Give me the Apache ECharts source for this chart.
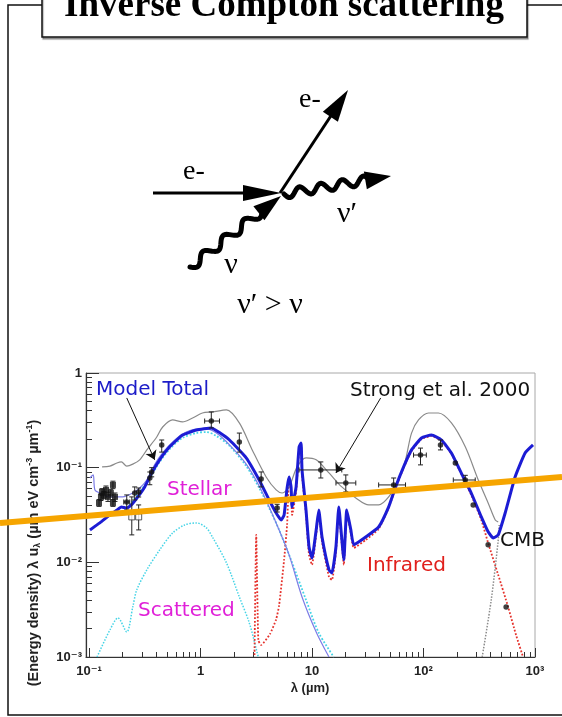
<!DOCTYPE html>
<html>
<head>
<meta charset="utf-8">
<script src="https://cdn.jsdelivr.net/npm/echarts@6/dist/echarts.min.js"></script>
<style>
  html, body { margin: 0; padding: 0; background: #fff; }
  #chart { width: 562px; height: 717px; }
</style>
</head>
<body>
<div id="chart"></div>
<script>
// Interstellar radiation field: wavelength λ in µm, energy density λu_λ in eV cm^-3

// Model total (thick blue)
const modelTotal = [
  [0.102,0.022],[0.125,0.0261],[0.154,0.0317],[0.178,0.0357],[0.195,0.0385],[0.218,0.0375],
  [0.24,0.0404],[0.274,0.0491],[0.316,0.0626],[0.365,0.088],[0.43,0.121],[0.529,0.166],
  [0.69,0.221],[0.921,0.25],[1.25,0.263],[1.5,0.232],[1.82,0.196],[2.57,0.127],[3.36,0.0741],
  [4.13,0.0456],[4.77,0.0332],[5.29,0.028],[5.62,0.0317],[5.98,0.061],[6.23,0.0798],
  [6.49,0.0626],[6.63,0.0385],[7.2,0.0626],[7.66,0.166],[7.98,0.182],[8.14,0.0946],
  [8.84,0.0357],[9.4,0.0146],[10,0.0111],[10.9,0.022],[11.5,0.0357],[12.3,0.0185],
  [14.2,0.00831],[15.1,0.00773],[16.4,0.0146],[17.4,0.0385],[18.2,0.022],[19.3,0.0106],
  [20.5,0.0357],[22.3,0.022],[23.7,0.0153],[30.3,0.0185],[39.6,0.0236],[48.7,0.0385],
  [56.2,0.0626],[66.3,0.102],[78.1,0.154],[96,0.206],[118,0.221],[145,0.196],[178,0.143],
  [218,0.088],[268,0.054],[330,0.0302],[380,0.021],[422,0.0181],[468,0.0195],[540,0.0332],
  [663,0.0798],[815,0.143],[960,0.174]
];

// Strong et al. 2000 (thin grey)
const strong2000 = [
  [0.131,0.102],[0.154,0.104],[0.178,0.112],[0.195,0.115],[0.218,0.104],[0.247,0.109],
  [0.285,0.121],[0.33,0.154],[0.405,0.211],[0.458,0.269],[0.562,0.319],[0.69,0.304],
  [0.849,0.335],[1.04,0.378],[1.28,0.388],[1.71,0.407],[2.23,0.297],[2.91,0.154],
  [3.88,0.0798],[4.77,0.0582],[5.4,0.054],[6.23,0.0626],[7.35,0.102],[8.84,0.127],
  [10.9,0.121],[14.2,0.088],[18.5,0.0626],[24.7,0.0479],[32.3,0.0404],[39.6,0.0404],
  [48.7,0.0491],[59.8,0.0741],[69,0.121],[78.1,0.232],[90.2,0.319],[111,0.378],[136,0.378],
  [178,0.297],[237,0.166],[310,0.0741],[380,0.0424],[440,0.028],[468,0.0267]
];

// Direct stellar emission (thin violet)
const stellarDirect = [
  [0.102,0.0778],[0.109,0.0838],[0.113,0.0582],[0.125,0.054],[0.154,0.0491],[0.201,0.0491],
  [0.247,0.054],[0.285,0.061],[0.33,0.0741],[0.365,0.0946],[0.43,0.13],[0.529,0.174],
  [0.69,0.227],[0.921,0.256],[1.13,0.257],[1.39,0.232],[1.82,0.174],[2.57,0.109],
  [3.36,0.0641],[4.13,0.0385],[5.07,0.022],[6.23,0.012],[8.14,0.00431],[10.9,0.00184],[14.2,0.001]
];

// Stellar component (dotted cyan)
const stellar = [
  [0.2,0.033],[0.285,0.0554],[0.365,0.0838],[0.43,0.115],[0.529,0.157],[0.69,0.206],
  [0.921,0.232],[1.13,0.238],[1.39,0.216],[1.82,0.17],[2.57,0.104],[3.36,0.061],
  [4.13,0.0375],[5.07,0.022],[6.49,0.0106],[8.84,0.00401],[11.5,0.0018],[15.7,0.001]
];

// Scattered starlight (dotted cyan)
const scattered = [
  [0.118,0.001],[0.154,0.00193],[0.182,0.00259],[0.218,0.00184],[0.247,0.00338],
  [0.268,0.00511],[0.33,0.00831],[0.43,0.0135],[0.562,0.0204],[0.72,0.0248],[0.921,0.0261],
  [1.13,0.0231],[1.28,0.0185],[1.71,0.00986],[2.23,0.00431],[2.74,0.00229],[3.23,0.0011],[3.3,0.001]
];

// Dust infrared emission (dotted red)
const infrared = [
  [3.05,0.00105],[3.16,0.0195],[3.3,0.0015],[3.5,0.00134],[4.2,0.00175],[4.77,0.0025],
  [5.07,0.0035],[5.62,0.0106],[5.98,0.025],[6.23,0.0741],[6.49,0.0554],[6.63,0.0317],
  [7.2,0.0554],[7.66,0.154],[7.98,0.17],[8.14,0.0838],[8.84,0.0317],[9.4,0.012],[10,0.0094],
  [10.9,0.0195],[11.5,0.0332],[12.3,0.0164],[14.2,0.00701],[15.1,0.00652],[16.4,0.0129],
  [17.4,0.0357],[18.2,0.0195],[19.3,0.0094],[20.5,0.0332],[22.3,0.0204],[23.7,0.0142],
  [30.3,0.0172],[39.6,0.0225],[48.7,0.0375],[56.2,0.061],[66.3,0.0993],[78.1,0.15],
  [96,0.201],[118,0.216],[145,0.191],[178,0.14],[218,0.0858],[268,0.0515],[330,0.028],
  [380,0.016],[468,0.00736],[574,0.00338],[676,0.00171],[781,0.001]
];

// Cosmic microwave background (dotted grey)
const cmb = [[336,0.001],[405,0.00401],[468,0.0172],[477,0.0248]];

// Measurements: filled squares
const sqLam = [0.123,0.128,0.131,0.136,0.142,0.148,0.157,0.164,0.171,0.164];
const sqU   = [0.0424,0.0491,0.0554,0.0515,0.0582,0.0491,0.054,0.0657,0.0491,0.0424];
const sqULo = [0.039,0.045,0.051,0.047,0.053,0.044,0.049,0.06,0.044,0.039];
const sqUHi = [0.046,0.053,0.06,0.056,0.064,0.055,0.059,0.072,0.054,0.046];

// Measurements: open squares
const opLam = [0.242,0.279];
const opU   = [0.0302,0.0302];
const opULo = [0.0195,0.022];
const opUHi = [0.0491,0.0404];

// Measurements: filled dots (λ range and u range give the error bars)
const dtLam   = [0.218,0.257,0.279,0.351,0.365,0.449,1.25,2.23,3.5,4.87,12.0,20.1,54,94,142,193,237,279,380,551];
const dtU     = [0.0434,0.054,0.0554,0.0778,0.0901,0.174,0.311,0.187,0.076,0.0375,0.0946,0.0689,0.0657,0.136,0.174,0.112,0.0741,0.0404,0.0153,0.00338];
const dtLamLo = [0.205,0.257,0.279,0.351,0.365,0.449,1.09,2.23,3.5,4.87,7.66,16.4,39.6,81.4,142,193,185,279,380,551];
const dtLamHi = [0.232,0.257,0.279,0.351,0.365,0.449,1.48,2.23,3.5,4.87,18.5,24.7,69,106,142,193,291,279,380,551];
const dtULo   = [0.0357,0.0456,0.049,0.066,0.08,0.146,0.263,0.146,0.0626,0.034,0.0778,0.0554,0.0554,0.107,0.154,0.112,0.066,0.0404,0.0153,0.00338];
const dtUHi   = [0.0515,0.0626,0.061,0.09,0.1,0.196,0.388,0.232,0.0901,0.041,0.115,0.0838,0.0778,0.161,0.196,0.112,0.083,0.0404,0.0153,0.00338];

// Annotation arrows (start, tip)
const modelArrow  = [[0.218,0.545],[0.388,0.121]];
const strongArrow = [[41.3,0.545],[16.4,0.088]];

// Overlaid trend stroke, end to end across the page
const trendLine = [[0.0159,0.0261],[1747,0.0798]];

// Axis ticks
const xMajor = [0.1, 1, 10, 100, 1000];
const xLabels = ['10\u207B\u00B9', '1', '10', '10\u00B2', '10\u00B3'];
const xMinor = [0.2,0.3,0.4,0.5,0.6,0.7,0.8,0.9, 2,3,4,5,6,7,8,9, 20,30,40,50,60,70,80,90, 200,300,400,500,600,700,800,900];
const yMajor = [0.001, 0.01, 0.1, 1];
const yLabels = ['10\u207B\u00B3', '10\u207B\u00B2', '10\u207B\u00B9', '1'];
const yMinor = [0.002,0.003,0.004,0.005,0.006,0.007,0.008,0.009, 0.02,0.03,0.04,0.05,0.06,0.07,0.08,0.09, 0.2,0.3,0.4,0.5,0.6,0.7,0.8,0.9];
const xRange = [0.094, 1000];
const yRange = [0.001, 1];

const L = Math.log10;
const toXY = arr => arr.map(p => [L(p[0]), L(p[1])]);
const labelOf = (majors, labels) => v => {
  const i = majors.findIndex(m => Math.abs(L(m) - v) < 1e-6);
  return i >= 0 ? labels[i] : '';
};

const errData = [];
sqLam.forEach((x, i) => errData.push([L(x), L(sqU[i]), L(x), L(x), L(sqULo[i]), L(sqUHi[i])]));
opLam.forEach((x, i) => errData.push([L(x), L(opU[i]), L(x), L(x), L(opULo[i]), L(opUHi[i])]));
dtLam.forEach((x, i) => errData.push([L(x), L(dtU[i]), L(dtLamLo[i]), L(dtLamHi[i]), L(dtULo[i]), L(dtUHi[i])]));

const sansBold = 'Liberation Sans, DejaVu Sans, sans-serif';
const tickFont = { fontFamily: sansBold, fontWeight: 'bold', fontSize: 13, color: '#222' };
const annoFont = '"Comic Sans MS", "DejaVu Sans", sans-serif';

function axisPair(isX) {
  const majors = isX ? xMajor : yMajor;
  const minors = isX ? xMinor : yMinor;
  const range = isX ? xRange : yRange;
  const base = { type: 'value', gridIndex: 0, min: L(range[0]), max: L(range[1]), splitLine: { show: false } };
  return [
    Object.assign({}, base, {
      position: isX ? 'bottom' : 'left',
      axisLine: { show: false, onZero: false },
      axisTick: { show: true, inside: true, length: isX ? 5 : 6, customValues: minors.map(L), lineStyle: { color: '#333', width: 1 } },
      axisLabel: { show: false }
    }),
    Object.assign({}, base, {
      position: isX ? 'bottom' : 'left',
      axisLine: { show: true, onZero: false, lineStyle: { color: '#333', width: 1.2 } },
      axisTick: { show: true, inside: true, length: isX ? 9 : 13, customValues: majors.map(L), lineStyle: { color: '#333', width: 1 } },
      axisLabel: Object.assign({ customValues: majors.map(L), formatter: labelOf(majors, isX ? xLabels : yLabels), margin: isX ? 8 : 4 }, tickFont)
    })
  ];
}

// Full-width overlay grid sharing the same log scale as the plot area
const plotLeft = 86, plotRight = 27, pageW = 562;
const pxPerDecade = (pageW - plotLeft - plotRight) / (L(xRange[1]) - L(xRange[0]));
const overlayX = {
  type: 'value', gridIndex: 1, show: false,
  min: L(xRange[0]) - plotLeft / pxPerDecade,
  max: L(xRange[1]) + plotRight / pxPerDecade
};
const overlayY = { type: 'value', gridIndex: 1, show: false, min: L(yRange[0]), max: L(yRange[1]) };

// Wavy photon line and arrow heads for the scattering sketch
function wavy(x0, y0, x1, y1, waves, amp) {
  const pts = [];
  const dx = x1 - x0, dy = y1 - y0, len = Math.hypot(dx, dy);
  const nx = -dy / len, ny = dx / len;
  const n = Math.round(waves * 24);
  for (let i = 0; i <= n; i++) {
    const t = i / n;
    const s = amp * Math.sin(t * waves * 2 * Math.PI);
    pts.push([x0 + dx * t + nx * s, y0 + dy * t + ny * s]);
  }
  return pts;
}
function head(tx, ty, fx, fy, len, half) {
  const dx = tx - fx, dy = ty - fy, d = Math.hypot(dx, dy);
  const ux = dx / d, uy = dy / d;
  const bx = tx - ux * len, by = ty - uy * len;
  return [[tx, ty], [bx - uy * half, by + ux * half], [bx + uy * half, by - ux * half]];
}
function base(tx, ty, fx, fy, len) {
  const dx = tx - fx, dy = ty - fy, d = Math.hypot(dx, dy);
  return [tx - dx / d * len, ty - dy / d * len];
}

const inBase = base(281, 196, 190, 267, 24);
const outBase = base(391, 176, 284, 194, 22);
const eBase = base(348, 90, 280, 193, 30);

const serif = '"Liberation Serif", "DejaVu Serif", serif';
const graphics = [
  // outer frame and title box
  { type: 'polyline', shape: { points: [[42, 5], [8, 5], [8, 715], [562, 715]] }, style: { stroke: '#111', lineWidth: 1.5, fill: null } },
  { type: 'line', shape: { x1: 527, y1: 5, x2: 562, y2: 5 }, style: { stroke: '#111', lineWidth: 1.5 } },
  { type: 'rect', shape: { x: 42, y: -5, width: 485, height: 42 }, style: { fill: '#fff', stroke: '#111', lineWidth: 1.5, shadowColor: 'rgba(0,0,0,0.3)', shadowOffsetX: 1, shadowOffsetY: 2, shadowBlur: 1 } },
  { type: 'text', x: 284, y: 6, style: { text: 'Inverse Compton scattering', font: 'bold 37px ' + serif, fill: '#000', align: 'center', verticalAlign: 'middle' } },

  // incoming electron
  { type: 'line', shape: { x1: 153, y1: 193, x2: 250, y2: 193 }, style: { stroke: '#000', lineWidth: 3 } },
  { type: 'polygon', shape: { points: head(281, 193, 153, 193, 38, 8) }, style: { fill: '#000' } },
  // outgoing electron
  { type: 'line', shape: { x1: 280, y1: 193, x2: eBase[0], y2: eBase[1] }, style: { stroke: '#000', lineWidth: 3 } },
  { type: 'polygon', shape: { points: head(348, 90, 280, 193, 32, 9) }, style: { fill: '#000' } },
  // incoming photon
  { type: 'polyline', shape: { points: wavy(190, 267, inBase[0], inBase[1], 3.5, 4.5) }, style: { stroke: '#000', lineWidth: 5, fill: null, lineCap: 'round', lineJoin: 'round' } },
  { type: 'polygon', shape: { points: head(281, 196, 190, 267, 28, 9) }, style: { fill: '#000' } },
  // outgoing photon
  { type: 'polyline', shape: { points: wavy(284, 194, outBase[0], outBase[1], 4, 4.5) }, style: { stroke: '#000', lineWidth: 5, fill: null, lineCap: 'round', lineJoin: 'round' } },
  { type: 'polygon', shape: { points: head(391, 176, 284, 194, 26, 9) }, style: { fill: '#000' } },

  { type: 'text', x: 194, y: 172, style: { text: 'e-', font: '28px ' + serif, fill: '#000', align: 'center', verticalAlign: 'middle' } },
  { type: 'text', x: 310, y: 100, style: { text: 'e-', font: '28px ' + serif, fill: '#000', align: 'center', verticalAlign: 'middle' } },
  { type: 'text', x: 347, y: 214, style: { text: '\u03BD\u2032', font: '30px ' + serif, fill: '#000', align: 'center', verticalAlign: 'middle' } },
  { type: 'text', x: 231, y: 265, style: { text: '\u03BD', font: '30px ' + serif, fill: '#000', align: 'center', verticalAlign: 'middle' } },
  { type: 'text', x: 270, y: 305, style: { text: '\u03BD\u2032 > \u03BD', font: '30px ' + serif, fill: '#000', align: 'center', verticalAlign: 'middle' } },

  // chart annotations
  { type: 'text', x: 96, y: 390, style: { text: 'Model Total', font: '20px ' + annoFont, fill: '#1c1cc8', align: 'left', verticalAlign: 'middle' } },
  { type: 'text', x: 350, y: 391, style: { text: 'Strong et al. 2000', font: '20px ' + annoFont, fill: '#111', align: 'left', verticalAlign: 'middle' } },
  { type: 'text', x: 167, y: 490, style: { text: 'Stellar', font: '20px ' + annoFont, fill: '#e020d8', align: 'left', verticalAlign: 'middle' } },
  { type: 'text', x: 138, y: 611, style: { text: 'Scattered', font: '20px ' + annoFont, fill: '#e020d8', align: 'left', verticalAlign: 'middle' } },
  { type: 'text', x: 367, y: 566, style: { text: 'Infrared', font: '20px ' + annoFont, fill: '#e0201c', align: 'left', verticalAlign: 'middle' } },
  { type: 'text', x: 500, y: 541, style: { text: 'CMB', font: '20px ' + annoFont, fill: '#111', align: 'left', verticalAlign: 'middle' } },

  // axis titles
  { type: 'text', x: 310, y: 688, style: { text: '\u03BB (\u00B5m)', font: 'bold 13px ' + sansBold, fill: '#222', align: 'center', verticalAlign: 'middle' } },
  { type: 'text', x: 34, y: 553, rotation: Math.PI / 2, style: {
      text: '{n|(Energy density) \u03BB u}{sub|\u03BB}{n| (\u00B5m eV cm}{sup|-3}{n| \u00B5m}{sup|-1}{n|)}',
      align: 'center', verticalAlign: 'middle',
      rich: {
        n: { fontFamily: sansBold, fontWeight: 'bold', fontSize: 14.5, fill: '#222' },
        sub: { fontFamily: sansBold, fontWeight: 'bold', fontSize: 9, fill: '#222', padding: [7, 0, 0, 0] },
        sup: { fontFamily: sansBold, fontWeight: 'bold', fontSize: 9, fill: '#222', padding: [0, 0, 8, 0] }
      }
  } }
];

const dotted = (color, width) => ({ color, width, type: 'dotted' });

const chart = echarts.init(document.getElementById('chart'), null, { renderer: 'canvas' });
chart.setOption({
  animation: false,
  backgroundColor: '#fff',
  grid: [
    { left: plotLeft, right: plotRight, top: 373, bottom: 60, show: true, borderColor: '#a8a8a8', borderWidth: 1, outerBoundsMode: 'none' },
    { left: 0, right: 0, top: 373, bottom: 60, show: false, outerBoundsMode: 'none' }
  ],
  xAxis: axisPair(true).concat([overlayX]),
  yAxis: axisPair(false).concat([overlayY]),
  graphic: { elements: graphics },
  series: [
    { type: 'line', data: toXY(scattered), showSymbol: false, smooth: 0.3, lineStyle: dotted('#45d4e6', 1.5), z: 2 },
    { type: 'line', data: toXY(stellar), showSymbol: false, smooth: 0.3, lineStyle: dotted('#45d4e6', 1.8), z: 2 },
    { type: 'line', data: toXY(infrared), showSymbol: false, smooth: 0.15, lineStyle: dotted('#e5322c', 1.8), z: 2 },
    { type: 'line', data: toXY(cmb), showSymbol: false, smooth: 0.3, lineStyle: dotted('#8c8c8c', 1.5), z: 2 },
    { type: 'line', data: toXY(strong2000), showSymbol: false, smooth: 0.3, lineStyle: { color: '#8a8a8a', width: 1.2 }, z: 3 },
    { type: 'line', data: toXY(stellarDirect), showSymbol: false, smooth: 0.3, lineStyle: { color: '#7c7ce6', width: 1.2 }, z: 3 },
    { type: 'line', data: toXY(modelTotal), showSymbol: false, smooth: 0.15, lineStyle: { color: '#1c1cd4', width: 3 }, z: 4 },
    {
      type: 'custom', data: errData, z: 5,
      renderItem(params, api) {
        const x = api.value(0), y = api.value(1);
        const x0 = api.value(2), x1 = api.value(3), y0 = api.value(4), y1 = api.value(5);
        const st = { stroke: '#222', lineWidth: 1 };
        const kids = [];
        const c = 2.5;
        if (y1 - y0 > 1e-9) {
          const a = api.coord([x, y0]), b = api.coord([x, y1]);
          kids.push({ type: 'line', shape: { x1: a[0], y1: a[1], x2: b[0], y2: b[1] }, style: st });
          kids.push({ type: 'line', shape: { x1: a[0] - c, y1: a[1], x2: a[0] + c, y2: a[1] }, style: st });
          kids.push({ type: 'line', shape: { x1: b[0] - c, y1: b[1], x2: b[0] + c, y2: b[1] }, style: st });
        }
        if (x1 - x0 > 1e-9) {
          const a = api.coord([x0, y]), b = api.coord([x1, y]);
          kids.push({ type: 'line', shape: { x1: a[0], y1: a[1], x2: b[0], y2: b[1] }, style: st });
          kids.push({ type: 'line', shape: { x1: a[0], y1: a[1] - c, x2: a[0], y2: a[1] + c }, style: st });
          kids.push({ type: 'line', shape: { x1: b[0], y1: b[1] - c, x2: b[0], y2: b[1] + c }, style: st });
        }
        return { type: 'group', children: kids };
      }
    },
    { type: 'scatter', data: sqLam.map((x, i) => [L(x), L(sqU[i])]), symbol: 'rect', symbolSize: 6, itemStyle: { color: '#111' }, z: 6 },
    { type: 'scatter', data: opLam.map((x, i) => [L(x), L(opU[i])]), symbol: 'rect', symbolSize: 6, itemStyle: { color: '#fff', borderColor: '#333', borderWidth: 1 }, z: 6 },
    { type: 'scatter', data: dtLam.map((x, i) => [L(x), L(dtU[i])]), symbol: 'circle', symbolSize: 5.5, itemStyle: { color: '#111' }, z: 6 },
    {
      type: 'lines', coordinateSystem: 'cartesian2d', symbol: ['none', 'arrow'], symbolSize: 9, z: 6,
      lineStyle: { color: '#111', width: 1, opacity: 1 },
      data: [{ coords: toXY(modelArrow) }, { coords: toXY(strongArrow) }]
    },
    { type: 'line', xAxisIndex: 2, yAxisIndex: 2, data: toXY(trendLine), showSymbol: false, clip: false, lineStyle: { color: '#f6a500', width: 6 }, z: 10 }
  ]
});
</script>
</body>
</html>
